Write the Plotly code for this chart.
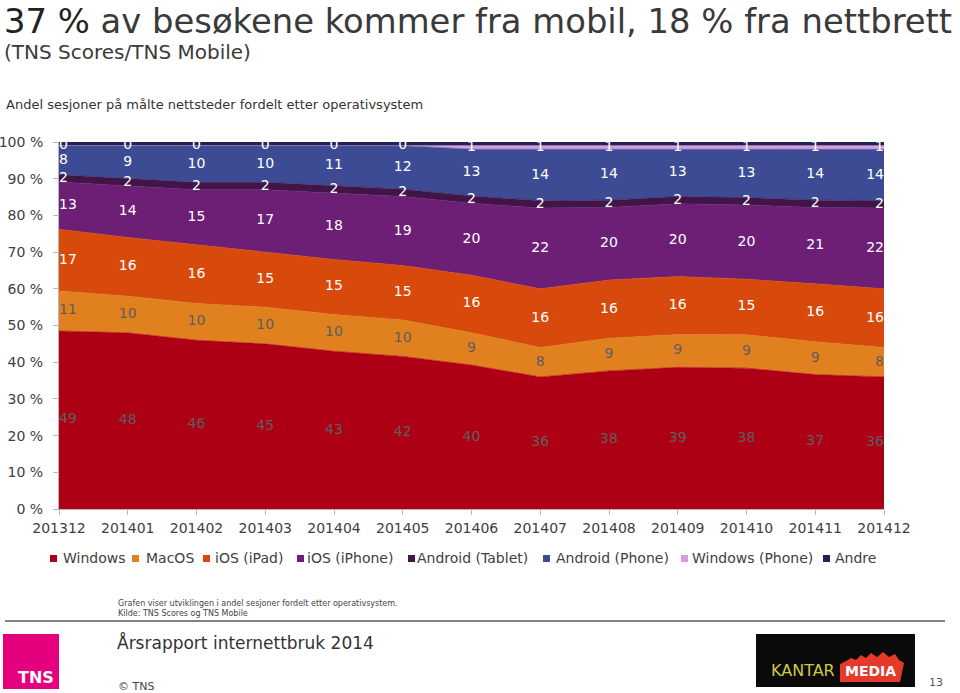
import numpy as np
import plotly.graph_objects as go

# ---------------- data ----------------
months = ["201312", "201401", "201402", "201403", "201404", "201405", "201406",
          "201407", "201408", "201409", "201410", "201411", "201412"]
windows = [49, 48, 46, 45, 43, 42, 40, 36, 38, 39, 38, 37, 36]
macos = [11, 10, 10, 10, 10, 10, 9, 8, 9, 9, 9, 9, 8]
ios_ipad = [17, 16, 16, 15, 15, 15, 16, 16, 16, 16, 15, 16, 16]
ios_iphone = [13, 14, 15, 17, 18, 19, 20, 22, 20, 20, 20, 21, 22]
android_tablet = [2, 2, 2, 2, 2, 2, 2, 2, 2, 2, 2, 2, 2]
android_phone = [8, 9, 10, 10, 11, 12, 13, 14, 14, 13, 13, 14, 14]
windows_phone = [0, 0, 0, 0, 0, 0, 1, 1, 1, 1, 1, 1, 1]
andre = [1, 1, 1, 1, 1, 1, 1, 1, 1, 1, 1, 1, 1]

series_names = ["Windows", "MacOS", "iOS (iPad)", "iOS (iPhone)", "Android (Tablet)",
                "Android (Phone)", "Windows (Phone)", "Andre"]
series_values = [windows, macos, ios_ipad, ios_iphone, android_tablet,
                 android_phone, windows_phone, andre]
y_tick_values = [0, 10, 20, 30, 40, 50, 60, 70, 80, 90, 100]
y_tick_labels = ["0 %", "10 %", "20 %", "30 %", "40 %", "50 %", "60 %",
                 "70 %", "80 %", "90 %", "100 %"]

# ---------------- style ----------------
colors = ["#AE0015", "#E0801E", "#D74A0B", "#6C1F74", "#411548",
          "#3D4B95", "#D99BE0", "#1F2455"]
label_colors = ["#5E5E5E", "#5E5E5E", "white", "white", "white", "white", "white", None]
FONT = "DejaVu Sans"
TXT = "#404040"

W, H = 960, 693
L, R, T, B = 59, 884, 142, 509


def px(x):
    return (x - L) / (R - L)


def py(y):
    return (B - y) / (B - T)


fig = go.Figure()

# stacked 100% areas
for i, (name, vals, col) in enumerate(zip(series_names, series_values, colors)):
    fig.add_trace(go.Scatter(
        x=months, y=vals, name=name, stackgroup="one",
        groupnorm="percent" if i == 0 else None,
        mode="lines", line=dict(width=0.6, color=col), fillcolor=col,
        showlegend=False, hoverinfo="skip"))

# data labels at band centers
arr = np.array(series_values, dtype=float)
pct = arr / arr.sum(axis=0) * 100
top = np.cumsum(pct, axis=0)
mid = top - pct / 2
n = len(months)
positions = ["middle right"] + ["middle center"] * (n - 2) + ["middle left"]
for i, (vals, lc) in enumerate(zip(series_values, label_colors)):
    if lc is None:
        continue
    fig.add_trace(go.Scatter(
        x=months, y=mid[i], mode="text", text=[str(v) for v in vals],
        textposition=positions, textfont=dict(family=FONT, size=14, color=lc),
        showlegend=False, hoverinfo="skip", cliponaxis=False))

fig.update_layout(
    width=W, height=H,
    margin=dict(l=L, r=W - R, t=T, b=H - B),
    paper_bgcolor="white", plot_bgcolor="white",
    font=dict(family=FONT, size=14, color=TXT),
    showlegend=False,
    xaxis=dict(type="category", range=[0, n - 1], showgrid=False, zeroline=False,
               showline=True, linecolor="#B8B8B8", linewidth=1, automargin=False,
               ticks="outside", ticklen=5, tickcolor="#B8B8B8",
               tickfont=dict(family=FONT, size=14, color=TXT), ticklabelstandoff=1),
    yaxis=dict(range=[0, 100], tickvals=y_tick_values, ticktext=y_tick_labels,
               showgrid=False, zeroline=False, automargin=False,
               showline=True, linecolor="#B8B8B8", linewidth=1,
               ticks="outside", ticklen=5, tickcolor="#B8B8B8",
               tickfont=dict(family=FONT, size=14, color=TXT), ticklabelstandoff=7),
)

ann = []
shapes = []


def text(x, y, s, size, color=TXT, xanchor="left", bold=False, family=FONT, yanchor="middle"):
    ann.append(dict(x=px(x), y=py(y), xref="paper", yref="paper", text=s,
                    showarrow=False, xanchor=xanchor, yanchor=yanchor, align="left",
                    font=dict(family=family, size=size, color=color,
                              weight="bold" if bold else "normal")))


# title + subtitle (one text block)
text(2, 0,
     "<span style='font-size:33.8px'><span style='color:#222'>37 %</span> "
     "av besøkene kommer fra mobil, 18 % fra nettbrett</span><br>(TNS Scores/TNS Mobile)",
     20, color="#3A3A3A", yanchor="top")
text(4, 105, "Andel sesjoner på målte nettsteder fordelt etter operativsystem", 13, color="#333")

# legend
legend_square_x = [50, 132, 203, 297, 408, 543, 681, 823]
legend_text_x = [61, 144, 213, 305, 415, 554, 690, 833]
for name, col, sx, tx in zip(series_names, colors, legend_square_x, legend_text_x):
    shapes.append(dict(type="rect", xref="paper", yref="paper",
                       x0=px(sx), x1=px(sx + 7), y0=py(562), y1=py(555),
                       fillcolor=col, line=dict(width=0)))
    text(tx, 558, name, 14)

# footnote
text(116, 603, "Grafen viser utviklingen i andel sesjoner fordelt etter operativsystem.", 8, color="#444")
text(116, 613, "Kilde: TNS Scores og TNS Mobile", 8, color="#444")
shapes.append(dict(type="line", xref="paper", yref="paper",
                   x0=px(5), x1=px(945), y0=py(621), y1=py(621),
                   line=dict(color="#5A5A5A", width=1.5)))
text(115, 642, "Årsrapport internettbruk 2014", 17, color="#333")
text(116, 686, "© TNS", 11, color="#444")
text(945, 682, "13", 11, color="#555", xanchor="right")

# TNS logo
shapes.append(dict(type="rect", xref="paper", yref="paper",
                   x0=px(3), x1=px(59), y0=py(689), y1=py(634),
                   fillcolor="#E5007D", line=dict(width=0)))
text(36, 677, "TNS", 16, color="white", xanchor="center", bold=True)

# Kantar Media logo
shapes.append(dict(type="rect", xref="paper", yref="paper",
                   x0=px(756), x1=px(915), y0=py(687), y1=py(634),
                   fillcolor="#0A0A0A", line=dict(width=0)))
flame = [(840, 682), (840, 664), (846, 661), (851, 658), (856, 660), (861, 655),
         (866, 658), (871, 653), (877, 657), (883, 652), (889, 657), (895, 654),
         (899, 660), (904, 663), (900, 682)]
path = "M " + " L ".join(f"{px(x):.5f},{py(y):.5f}" for x, y in flame) + " Z"
shapes.append(dict(type="path", xref="paper", yref="paper", path=path,
                   fillcolor="#E5392A", line=dict(width=0)))
text(769, 670, "KANTAR", 16, color="#CFCB3E")
text(843, 671, "MEDIA", 14, color="white", bold=True)

fig.update_layout(annotations=ann, shapes=shapes)
fig.write_html("out.html", config={"displayModeBar": False},
               post_script="document.body.style.margin='0px';document.body.style.overflow='hidden';")
